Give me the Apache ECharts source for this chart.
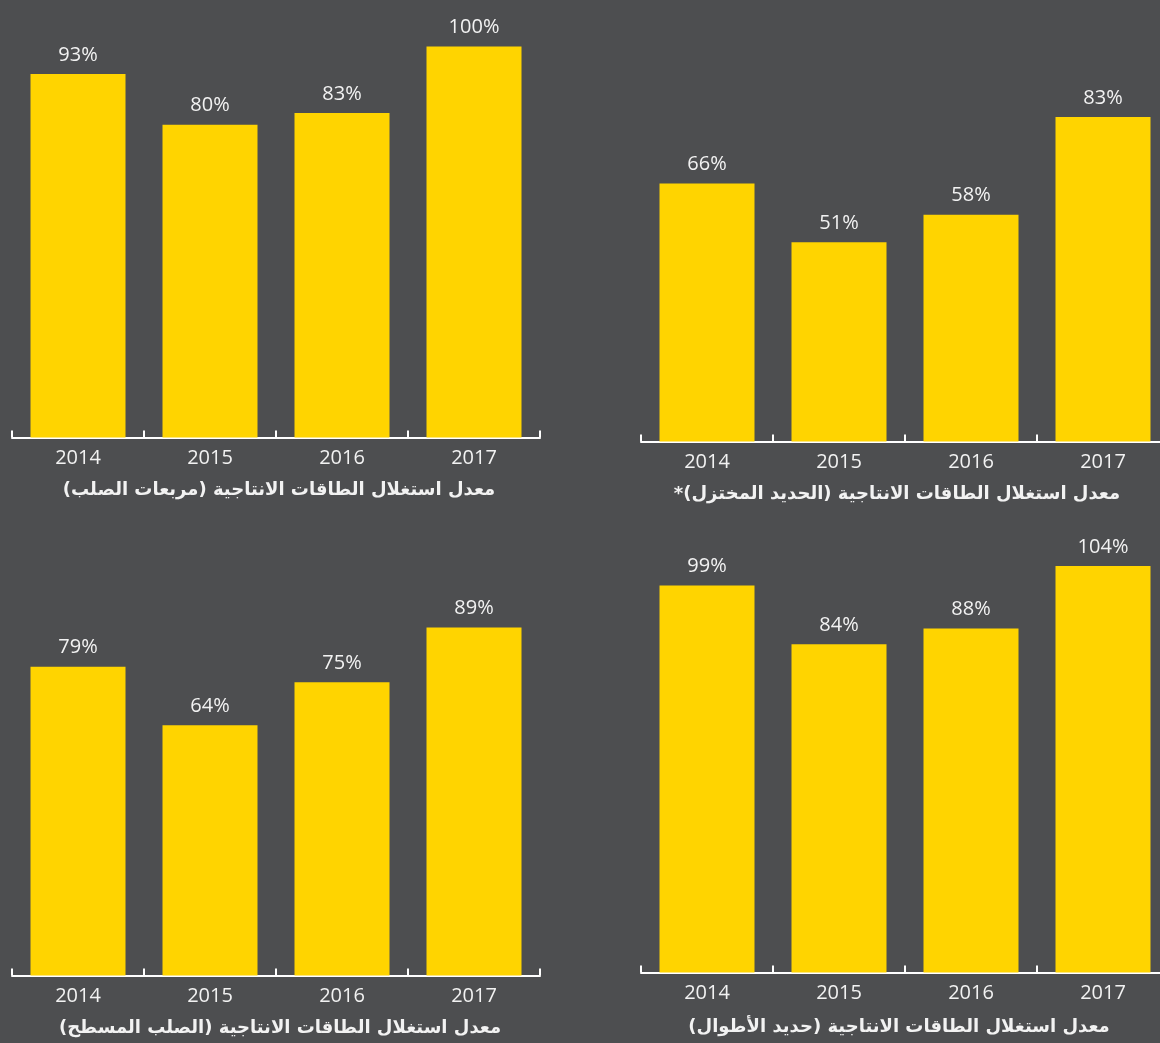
<!DOCTYPE html>
<html>
<head>
<meta charset="utf-8">
<script src="https://cdn.jsdelivr.net/npm/echarts@6/dist/echarts.min.js"></script>
<style>
html,body{margin:0;padding:0;background:#4d4e50;overflow:hidden;}
#chart{width:1180px;height:1043px;}
</style>
</head>
<body>
<div id="chart"></div>
<script>
// ---- data ----
const years = ['2014', '2015', '2016', '2017'];
const billetsValues = [93, 80, 83, 100];      // مربعات الصلب
const driValues = [66, 51, 58, 83];           // الحديد المختزل
const flatValues = [79, 64, 75, 89];          // الصلب المسطح
const rebarValues = [99, 84, 88, 104];        // حديد الأطوال
const panelTitles = [
  'معدل استغلال الطاقات الانتاجية (مربعات الصلب)',
  'معدل استغلال الطاقات الانتاجية (الحديد المختزل)*',
  'معدل استغلال الطاقات الانتاجية (الصلب المسطح)',
  'معدل استغلال الطاقات الانتاجية (حديد الأطوال)'
];

// ---- layout ----
const panels = [
  {values: billetsValues, left: 12,  width: 528, bottomY: 437.5, titleX: 279, titleY: 490},
  {values: driValues,     left: 641, width: 528, bottomY: 441.5, titleX: 897, titleY: 494},
  {values: flatValues,    left: 12,  width: 528, bottomY: 975.5, titleX: 280, titleY: 1028},
  {values: rebarValues,   left: 641, width: 528, bottomY: 972.5, titleX: 899, titleY: 1027}
];
const YMAX = 110;
const PLOT_H = 430;
const textColor = '#f2f2f2';
const barColor = '#ffd400';

const grid = [], xAxis = [], yAxis = [], series = [], graphic = [];
panels.forEach((p, i) => {
  grid.push({left: p.left, top: p.bottomY - PLOT_H, width: p.width, height: PLOT_H, containLabel: false});
  xAxis.push({
    type: 'category', gridIndex: i, data: years,
    axisLine: {show: true, lineStyle: {color: '#ffffff', width: 2}},
    axisTick: {show: true, inside: true, length: 7, lineStyle: {color: '#ffffff', width: 2}},
    axisLabel: {color: textColor, fontSize: 20, fontFamily: 'Open Sans', margin: 11}
  });
  yAxis.push({type: 'value', gridIndex: i, min: 0, max: YMAX, show: false, splitLine: {show: false}});
  series.push({
    type: 'bar', xAxisIndex: i, yAxisIndex: i, data: p.values,
    barWidth: 95,
    itemStyle: {color: barColor},
    label: {show: true, position: 'top', distance: 9, color: textColor, fontSize: 20,
            fontFamily: 'Open Sans', formatter: '{c}%'},
    animation: false
  });
  graphic.push({
    type: 'text', x: p.titleX, y: p.titleY,
    style: {
      text: '\u202B' + panelTitles[i] + '\u202C',
      fill: textColor, fontSize: 18, fontWeight: 'bold',
      fontFamily: 'DejaVu Sans',
      textAlign: 'center', textVerticalAlign: 'middle'
    }
  });
});

const chart = echarts.init(document.getElementById('chart'), null, {renderer: 'canvas'});
chart.setOption({
  backgroundColor: '#4d4e50',
  animation: false,
  grid, xAxis, yAxis, series, graphic
});
</script>
</body>
</html>
